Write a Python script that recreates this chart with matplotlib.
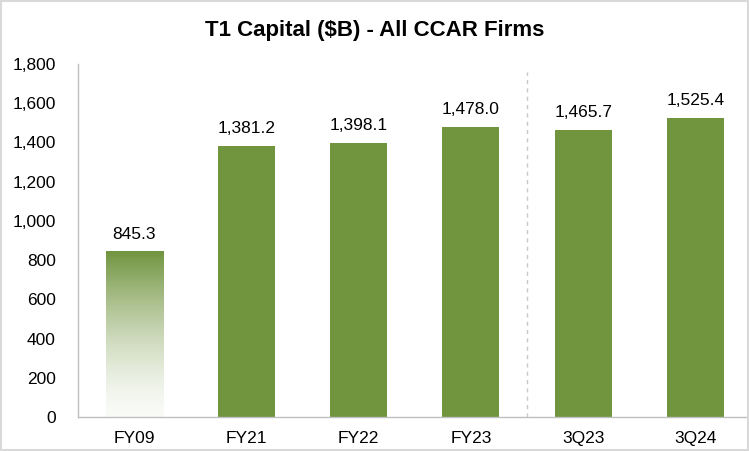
import numpy as np
import matplotlib.pyplot as plt
from matplotlib.patches import Rectangle

plt.rcParams['font.family'] = ['Liberation Sans', 'DejaVu Sans']

categories = ['FY09', 'FY21', 'FY22', 'FY23', '3Q23', '3Q24']
values = [845.3, 1381.2, 1398.1, 1478.0, 1465.7, 1525.4]
labels = ['845.3', '1,381.2', '1,398.1', '1,478.0', '1,465.7', '1,525.4']
yticks = [0, 200, 400, 600, 800, 1000, 1200, 1400, 1600, 1800]

green = np.array([0x71, 0x95, 0x3F]) / 255
bar_w = 0.51

fig = plt.figure(figsize=(7.49, 4.51), dpi=100)
# light gray frame round the whole picture
fig.patches.append(Rectangle((0.001, 0.003), 0.997, 0.995, transform=fig.transFigure,
                             fill=False, edgecolor='#D9D9D9', linewidth=1.5))

ax = fig.add_axes([78 / 749, 34 / 451, 673.5 / 749, 353 / 451])
x = np.arange(len(categories))

bars = ax.bar(x[1:], values[1:], width=bar_w, color=green)

# first bar: fade from green at the top to near white at the bottom
h = 200
grad = np.linspace(1.0, 0.0, h)[:, None]
amt = (0.04 + 0.96 * grad ** 1.5)[..., None]
rgb = 1 - amt * (1 - green[None, None, :])
ax.imshow(rgb, extent=(x[0] - bar_w / 2, x[0] + bar_w / 2, 0, values[0]),
          aspect='auto', interpolation='bilinear', zorder=2)

for xi, v, lab in zip(x, values, labels):
    ax.annotate(lab, (xi, v), xytext=(0, 7), textcoords='offset points',
                ha='center', va='bottom', fontsize=12.5)

ax.axvline(3.5, ymax=1760 / 1800, color='#C8C8C8', linestyle=(0, (3, 3)), linewidth=1)

ax.set_xlim(-0.5, 5.5)
ax.set_ylim(0, 1800)
ax.set_yticks(yticks)
ax.set_yticklabels([f'{t:,}' for t in yticks])
ax.set_xticks(x)
ax.set_xticklabels(categories)
ax.tick_params(axis='y', length=0, pad=16, labelsize=12.5)
ax.tick_params(axis='x', length=0, pad=10, labelsize=12.5)
for s in ['top', 'right']:
    ax.spines[s].set_visible(False)
for s in ['left', 'bottom']:
    ax.spines[s].set_color('#BFBFBF')
    ax.spines[s].set_linewidth(1)

fig.text(0.5, 0.932, 'T1 Capital ($B) - All CCAR Firms', ha='center', va='center',
         fontsize=16, fontweight='bold')

fig.savefig('out.png', dpi=100)
